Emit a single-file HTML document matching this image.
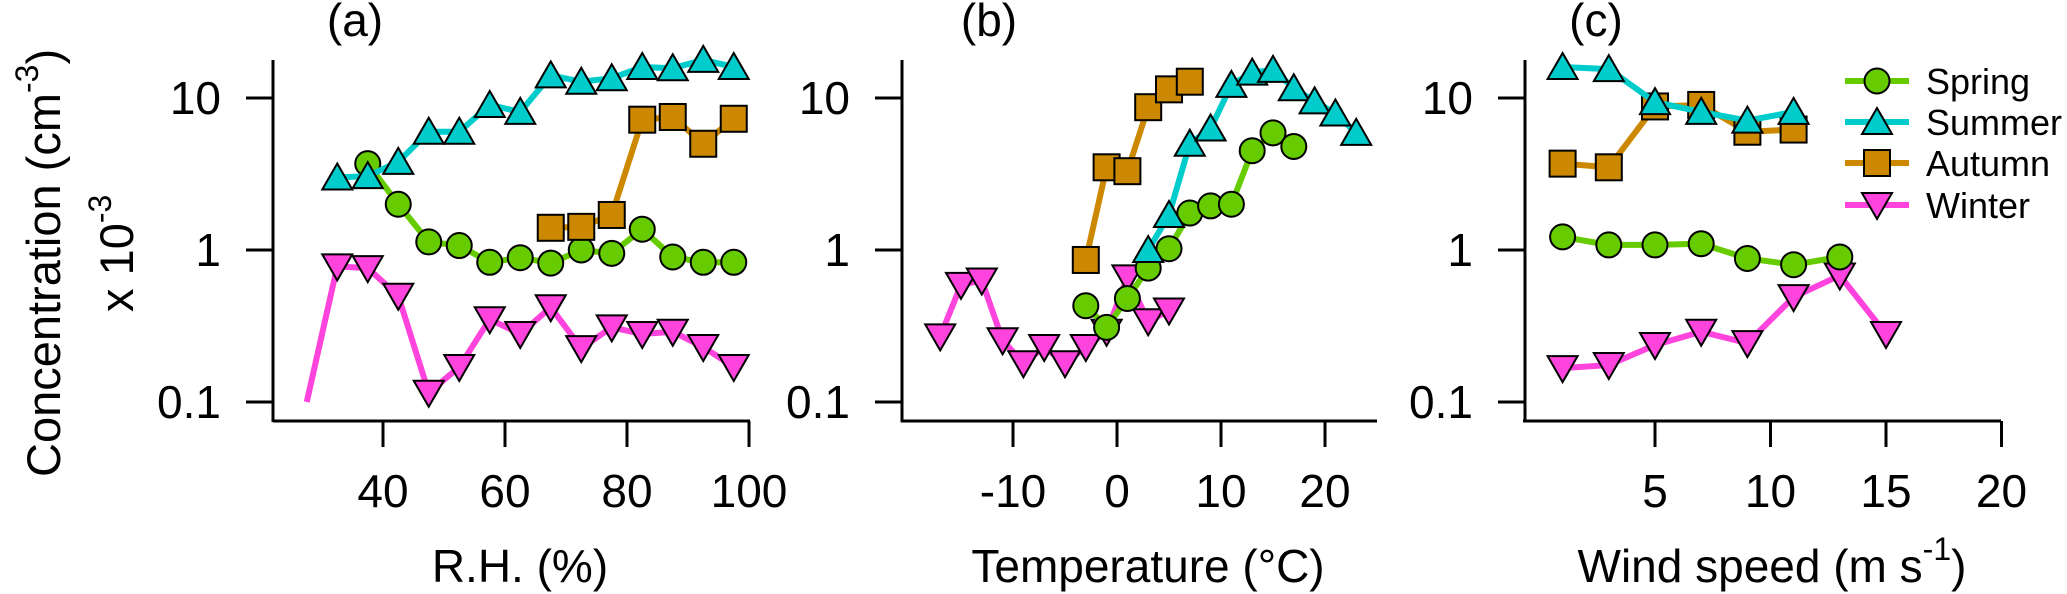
<!DOCTYPE html>
<html><head><meta charset="utf-8">
<style>
html,body{margin:0;padding:0;background:#fff;}
svg{display:block;font-family:"Liberation Sans",Arial,sans-serif;}
</style></head>
<body>
<svg id="chart" width="2067" height="594" viewBox="0 0 2067 594" xmlns="http://www.w3.org/2000/svg">
<g id="axes"></g>
<g id="series"></g>
<text transform="translate(60,477) rotate(-90)" font-size="47">Concentration (cm<tspan dy="-22" font-size="32">-3</tspan><tspan dy="22">)</tspan></text>
<text transform="translate(133,312) rotate(-90)" font-size="47">x 10<tspan dy="-22" font-size="32">-3</tspan></text>
<text x="355" y="36" font-size="46" text-anchor="middle">(a)</text>
<text x="989" y="36" font-size="46" text-anchor="middle">(b)</text>
<text x="1596" y="36" font-size="46" text-anchor="middle">(c)</text>
<text x="520" y="582" font-size="46" text-anchor="middle">R.H. (%)</text>
<text x="1148" y="582" font-size="46" text-anchor="middle">Temperature (°C)</text>
<text x="1772" y="582" font-size="46" text-anchor="middle">Wind speed (m s<tspan dy="-22" font-size="32">-1</tspan><tspan dy="22">)</tspan></text>
<g id="legend"></g>
</svg>
<script>
// Panel (a) R.H.
const rhSpring = [[37.5,3.7],[42.5,2.0],[47.5,1.13],[52.5,1.07],[57.5,0.83],[62.5,0.89],[67.5,0.82],[72.5,1.0],[77.5,0.95],[82.5,1.37],[87.5,0.9],[92.5,0.83],[97.5,0.83]];
const rhSummer = [[32.5,3.0],[37.5,3.06],[42.5,3.8],[47.5,6.0],[52.5,6.0],[57.5,9.0],[62.5,8.1],[67.5,14.1],[72.5,12.8],[77.5,13.5],[82.5,16],[87.5,15.7],[92.5,17.8],[97.5,16]];
const rhAutumn = [[67.5,1.4],[72.5,1.42],[77.5,1.7],[82.5,7.2],[87.5,7.5],[92.5,5.0],[97.5,7.3]];
const rhWinter = [[27.5,0.1],[32.5,0.78],[37.5,0.76],[42.5,0.5],[47.5,0.115],[52.5,0.17],[57.5,0.35],[62.5,0.28],[67.5,0.42],[72.5,0.226],[77.5,0.31],[82.5,0.28],[87.5,0.29],[92.5,0.23],[97.5,0.17]];
// Panel (b) Temperature
const tSpring = [[-3,0.43],[-1,0.31],[1,0.48],[3,0.76],[5,1.02],[7,1.75],[9,1.95],[11,2.0],[13,4.5],[15,5.9],[17,4.8]];
const tSummer = [[3,1.0],[5,1.7],[7,5.0],[9,6.3],[11,12.2],[13,14.7],[15,15.3],[17,11.6],[19,9.5],[21,7.9],[23,5.9]];
const tAutumn = [[-3,0.86],[-1,3.5],[1,3.3],[3,8.7],[5,11.4],[7,12.8]];
const tWinter = [[-17,0.27],[-15,0.59],[-13,0.63],[-11,0.255],[-9,0.18],[-7,0.23],[-5,0.18],[-3,0.23],[-1,0.29],[1,0.66],[3,0.34],[5,0.4]];
// Panel (c) Wind speed
const wSpring = [[1,1.22],[3,1.08],[5,1.08],[7,1.1],[9,0.88],[11,0.8],[13,0.9]];
const wSummer = [[1,16],[3,15.5],[5,9.4],[7,8.1],[9,7.1],[11,8.1]];
const wAutumn = [[1,3.7],[3,3.5],[5,8.8],[7,9.0],[9,6.0],[11,6.2]];
const wWinter = [[1,0.167],[3,0.175],[5,0.237],[7,0.29],[9,0.244],[11,0.49],[13,0.68],[15,0.28]];
const yTicks = [10,1,0.1];
const yTickLabels = ["10","1","0.1"];
const rhTicks = [40,60,80,100];
const tTicks = [-10,0,10,20];
const tTickLabels = ["-10","0","10","20"];
const wTicks = [5,10,15,20];
const seasonNames = ["Spring","Summer","Autumn","Winter"];

const NS="http://www.w3.org/2000/svg";
const colors={Spring:"#66cc00",Summer:"#00cccc",Autumn:"#cc8800",Winter:"#ff44dd"};
const shapes={Spring:"circle",Summer:"up",Autumn:"square",Winter:"down"};
function yScale(v){return 250-152*Math.log10(v);}
const panels=[
 {id:"rh",axisX:273,x0:22,x1:100,px0:274,px1:749,fx:v=>383+(v-40)*6.1,ticks:rhTicks,labels:rhTicks.map(String),data:{Spring:rhSpring,Summer:rhSummer,Autumn:rhAutumn,Winter:rhWinter},markerless:[[27.5]]},
 {id:"temp",axisX:902,px0:902,px1:1376,fx:v=>1117+v*10.4,ticks:tTicks,labels:tTickLabels,data:{Spring:tSpring,Summer:tSummer,Autumn:tAutumn,Winter:tWinter}},
 {id:"wind",axisX:1525,px0:1524,px1:2000,fx:v=>1655+(v-5)*23.1,ticks:wTicks,labels:wTicks.map(String),data:{Spring:wSpring,Summer:wSummer,Autumn:wAutumn,Winter:wWinter}}
];
const axes=document.getElementById('axes');
const series=document.getElementById('series');
function mk(tag,attrs,parent){const e=document.createElementNS(NS,tag);for(const k in attrs)e.setAttribute(k,attrs[k]);parent.appendChild(e);return e;}
function marker(shape,x,y,color,parent){
  let e;
  if(shape==="circle") e=mk('circle',{cx:x,cy:y,r:12.5},parent);
  else if(shape==="square") e=mk('rect',{x:x-13,y:y-13,width:26,height:26},parent);
  else if(shape==="up") e=mk('polygon',{points:`${x-15},${y+12} ${x+15},${y+12} ${x},${y-14}`},parent);
  else e=mk('polygon',{points:`${x-15},${y-12} ${x+15},${y-12} ${x},${y+14}`},parent);
  e.setAttribute('fill',color);e.setAttribute('stroke','#000');e.setAttribute('stroke-width','2');
  return e;
}
panels.forEach(p=>{
  const yax=mk('line',{x1:p.axisX,y1:60,x2:p.axisX,y2:422,stroke:'#000','stroke-width':3},axes);
  
  
  const xax=mk('line',{x1:p.px0-1,y1:421,x2:p.px1+1,y2:421,stroke:'#000','stroke-width':3},axes);
  
  
  yTicks.forEach((t,i)=>{
    const y=yScale(t);
    const tk=mk('line',{x1:p.axisX-27,y1:y,x2:p.axisX,y2:y,stroke:'#000','stroke-width':3},axes);
    
    
    const tl=mk('text',{x:p.axisX-52,y:y+16,'font-size':46,'text-anchor':'end'},axes);
    tl.textContent=yTickLabels[i];
    
    
  });
  p.ticks.forEach((t,i)=>{
    const x=p.fx(t);
    const tk=mk('line',{x1:x,y1:421,x2:x,y2:447,stroke:'#000','stroke-width':3},axes);
    
    
    const tl=mk('text',{x:x,y:507,'font-size':46,'text-anchor':'middle'},axes);
    tl.textContent=p.labels[i];
    
    
  });
  ["Winter","Spring","Autumn","Summer"].forEach(s=>{
    const d=p.data[s];
    const g=mk('g',{},series);
    
    
    const pl=mk('polyline',{points:d.map(q=>p.fx(q[0])+','+yScale(q[1])).join(' '),fill:'none',stroke:colors[s],'stroke-width':6,'stroke-linejoin':'round'},g);
    
    
    d.forEach(q=>{
      if(p.markerless && s==="Winter" && q[0]===27.5) return;
      const m=marker(shapes[s],p.fx(q[0]),yScale(q[1]),colors[s],g);
      
      
    });
  });
});
const lg=document.getElementById('legend');
const legendY=[81,122,163,205];
seasonNames.forEach((s,i)=>{
  const g=mk('g',{},lg);
  
  
  const y=legendY[i];
  mk('line',{x1:1845,y1:y,x2:1909,y2:y,stroke:colors[s],'stroke-width':6},g);
  marker(shapes[s],1877,y,colors[s],g);
  const t=mk('text',{x:1926,y:y+13,'font-size':36},g);
  t.textContent=s;
});
</script>
</body></html>
